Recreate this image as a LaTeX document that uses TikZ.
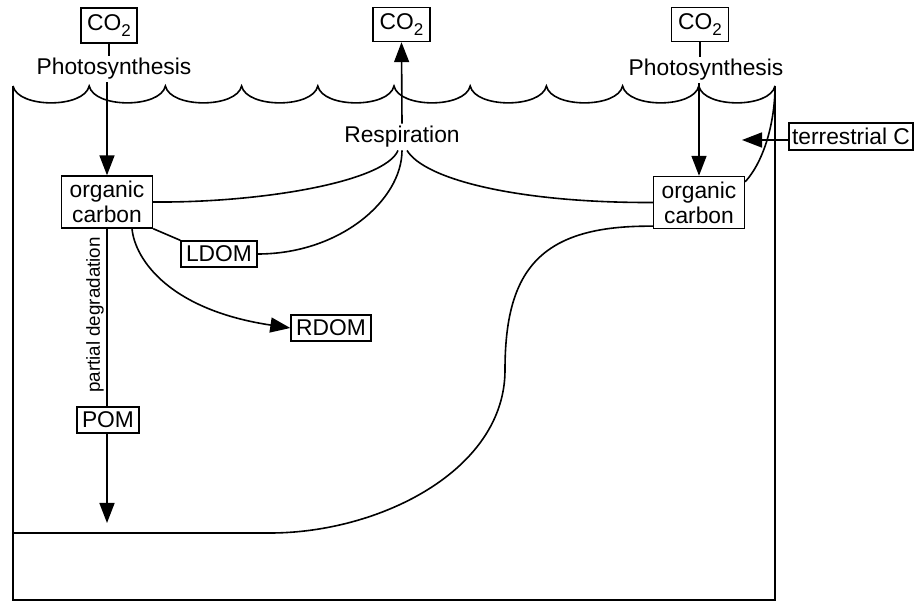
\documentclass[tikz,border=0pt]{standalone}
\usepackage{fontspec}
\setmainfont{Liberation Sans}
\usetikzlibrary{arrows.meta}
\newcommand{\cotwo}{CO\raisebox{-6pt}{\fontsize{17}{17}\selectfont 2}}
\begin{document}
\begin{tikzpicture}[x=1pt,y=-1pt, line width=1.6pt,
  every node/.style={font=\fontsize{22.8}{25}\selectfont},
  box/.style={draw, inner sep=0pt, line width=1.4pt},
  lbl/.style={inner sep=2pt},
  tip/.style={-{Triangle[length=20pt,width=15pt]}}]
\useasboundingbox (0,0) rectangle (919,601);
% ocean frame
\coordinate (tl) at (13,86);
\coordinate (tr) at (775,86);
\coordinate (bl) at (13,600);
\coordinate (br) at (775,600);
\draw (tl) -- (bl) -- (br) -- (tr);
\draw (tl) foreach \i in {1,...,10} { .. controls +(5,22.5) and +(-5,22.5) .. ++(76.2,0) };
% nodes
\node[box, minimum width=56pt, minimum height=35pt] (co2a) at (109,25.5) {\cotwo};
\node[box, minimum width=57pt, minimum height=34pt] (co2b) at (401.5,24.5) {\cotwo};
\node[box, minimum width=57pt, minimum height=34pt] (co2c) at (700,24.5) {\cotwo};
\node[lbl] (photoa) at (114,69) {Photosynthesis};
\node[lbl] (photob) at (706,70) {Photosynthesis};
\node[lbl] (resp) at (402,137) {Respiration};
\node[box, align=center, minimum width=91pt, minimum height=52pt] (orga) at (107,202) {organic\\carbon};
\node[box, align=center, minimum width=91pt, minimum height=52pt] (orgb) at (699,202.5) {organic\\carbon};
\node[box, minimum width=76pt, minimum height=26pt] (ldom) at (219,254) {LDOM};
\node[box, minimum width=80pt, minimum height=26pt] (rdom) at (331,328) {RDOM};
\node[box, minimum width=62pt, minimum height=26pt] (pom) at (108,420) {POM};
\node[box, minimum width=124pt, minimum height=27pt] (terr) at (851,136.5) {terrestrial C};
\node[rotate=90, inner sep=0pt, font=\fontsize{18.8}{20}\selectfont] (pdeg) at (95,315) {partial degradation};
% coordinates
\coordinate (r1) at ([xshift=-4pt]resp.south);
\coordinate (r2) at (resp.south);
\coordinate (r3) at ([xshift=5pt]resp.south);
\coordinate (pomtip) at (107,523);
\coordinate (ttip) at (742,140);
\coordinate (wl) at (13,533);
% connectors
\draw (co2a.south) -- (co2a.south |- photoa.north);
\draw (co2c.south) -- (co2c.south |- photob.north);
\draw[tip] (orga.north |- photoa.south) -- (orga.north);
\draw[tip] (orgb.north |- photob.south) -- (orgb.north);
\draw[tip] (resp.north) -- (co2b.south);
\draw (r1) .. controls (385,182) and (260,203) .. (orga.east);
\draw (r2) .. controls (402,200) and (340,254) .. (ldom.east);
\draw (r3) .. controls (425,180) and (520,203) .. (orgb.west);
\draw (orga.south east) -- (ldom.north west);
\draw[tip] ([xshift=25pt]orga.south) .. controls (135,260) and (170,310) .. (rdom.west);
\draw (orga.south) -- (orga.south |- pom.north);
\draw[tip] (pom.south -| orga.south) -- (pomtip);
\draw ([yshift=3pt]orgb.south west) .. controls (540,225) and (505,270) .. (505,370)
      .. controls (505,470) and (380,533) .. (270,533) -- (wl);
\draw ([yshift=-6pt]orgb.north east) .. controls (765,160) and (775,120) .. (tr);
\draw[tip] (terr.west |- ttip) -- (ttip);
\end{tikzpicture}
\end{document}
